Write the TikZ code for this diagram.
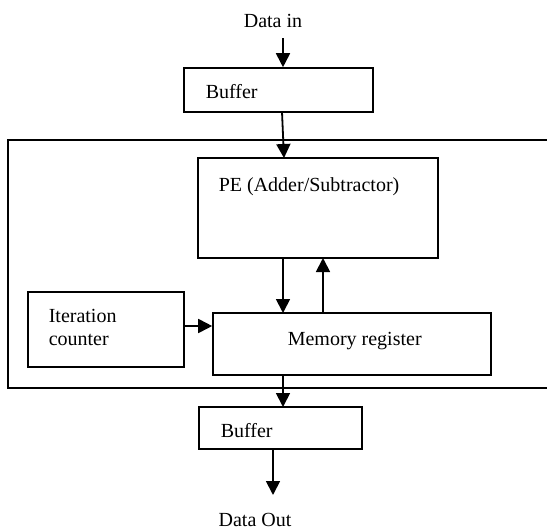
\documentclass[tikz,border=0pt]{standalone}
\usepackage{fontspec}
\setmainfont{Liberation Serif}
\usetikzlibrary{arrows.meta}
\begin{document}
\begin{tikzpicture}[x=1pt,y=-1pt,
  line width=1.6pt,
  every node/.style={font=\fontsize{20}{24}\selectfont, inner sep=0pt},
  blk/.style={draw, line width=1.6pt},
  lbl/.style={anchor=base west},
  arr/.style={-{Triangle[length=14pt,width=14pt]}, line width=1.8pt}]
\useasboundingbox (0,0) rectangle (547,531);
% outer frame (open at right)
\draw[line width=1.6pt] (560,140) -- (8,140) -- (8,388) -- (560,388);
% boxes
\node[blk, minimum width=189pt, minimum height=44pt] (buf1) at (278.5,90) {};
\node[blk, minimum width=240pt, minimum height=100pt] (pe) at (318,208) {};
\node[blk, minimum width=156pt, minimum height=75pt] (iter) at (106,329.5) {};
\node[blk, minimum width=278pt, minimum height=62pt] (mem) at (352,344) {};
\node[blk, minimum width=163pt, minimum height=42pt] (buf2) at (280.5,428) {};
% texts
\node[anchor=base] (din) at (273,27) {Data in};
\node[lbl] (tbuf1) at (205,98) {Buffer};
\node[lbl] (tpe) at (218,191) {PE (Adder/Subtractor)};
\node[lbl] (titer1) at (48,322) {Iteration};
\node[lbl] (titer2) at (48,345) {counter};
\node[lbl] (tmem) at (287,345) {Memory register};
\node[lbl] (tbuf2) at (220,437) {Buffer};
\node[anchor=base] (dout) at (255,526) {Data Out};
% helper coordinates
\coordinate (inS) at (283,38);
\coordinate (outE) at (273,495);
% connectors
\draw[arr] (inS) -- (inS |- buf1.north);
\draw[arr] (282,112) -- (284,158);
\draw[arr] (283,258) -- (283,313);
\draw[arr] (323,313) -- (323,258);
\draw[arr] (iter.east |- 0,326) -- (mem.west |- 0,326);
\draw[arr] (283,375) -- (283,407);
\draw[arr] (273,449) -- (outE);
\end{tikzpicture}
\end{document}
